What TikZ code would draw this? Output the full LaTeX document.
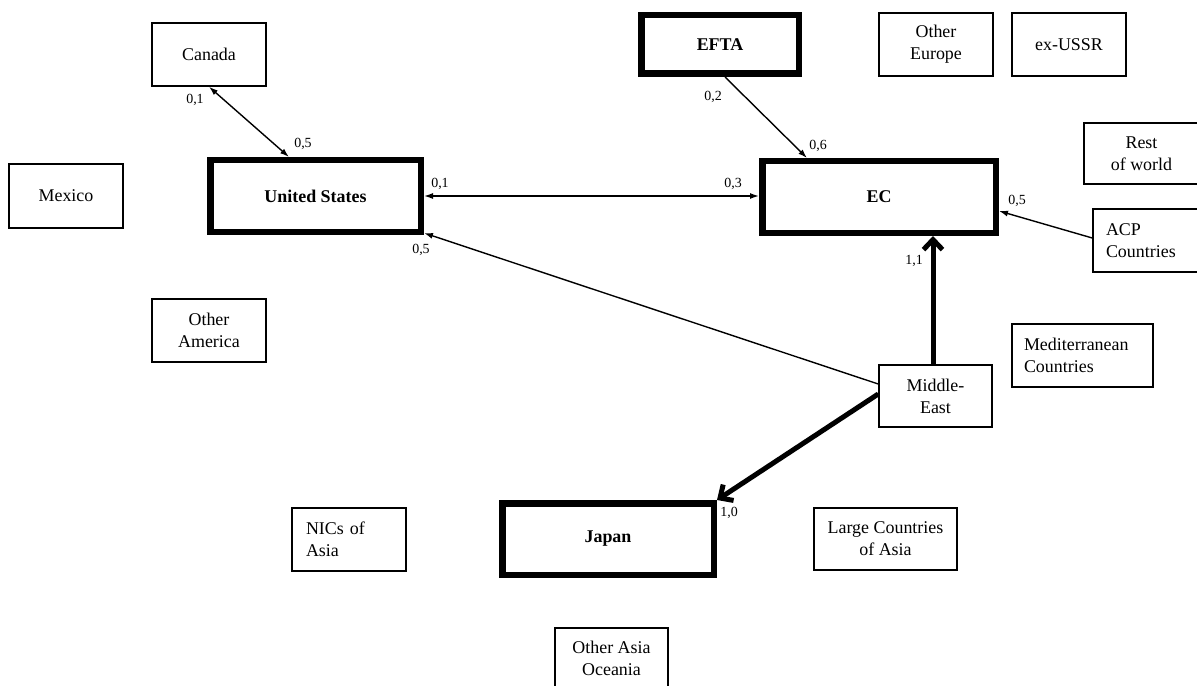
\documentclass[tikz,border=0pt]{standalone}
\usepackage{fontspec}
\setmainfont{Liberation Serif}
\usetikzlibrary{arrows.meta,calc}

\begin{document}
\begin{tikzpicture}[x=1bp,y=-1bp,
  box/.style={draw, line width=1.5bp, inner sep=0pt, align=center,
    minimum width=114bp, minimum height=63bp,
    font=\fontsize{18}{22}\selectfont},
  mainbox/.style={box, line width=6.5bp, font=\fontsize{18}{22}\selectfont\bfseries},
  flow/.style={line width=1.4bp, -{Latex[length=9bp,width=6bp]}},
  flowboth/.style={line width=1.4bp, {Latex[length=9bp,width=6bp]}-{Latex[length=9bp,width=6bp]}},
  bigflow/.style={line width=5bp, -{Straight Barb[length=10bp,width=19bp]}},
  val/.style={font=\fontsize{14}{14}\selectfont, inner sep=0pt}]

\path[use as bounding box, fill=white] (0,0) rectangle (1197,686);

% the four main trading blocs
\node[mainbox, minimum width=210.5bp, minimum height=71.5bp] (us) at (315.5,196) {United States};
\node[mainbox, minimum width=233.5bp, minimum height=71.5bp] (ec) at (879,197) {EC};
\node[mainbox, minimum width=157.5bp, minimum height=58.5bp] (efta) at (720,44.5) {EFTA};
\node[mainbox, minimum width=211.5bp, minimum height=71.5bp] (jap) at (608,539) {Japan};

% other regions
\node[box] (can) at (209,54.5) {Canada};
\node[box, minimum height=64bp] (mex) at (66,196) {Mexico};
\node[box] (oam) at (209,330.5) {Other\\America};
\node[box] (oeu) at (936,44.5) {Other\\Europe};
\node[box] (ussr) at (1069,44.5) {ex-USSR};
\node[box, minimum width=115bp, minimum height=61bp] (row) at (1141.5,153.5) {Rest\\of world};
\node[box, minimum width=106bp, align=left, text width=80bp, inner xsep=13bp] (acp) at (1146,240.5) {ACP\\Countries};
\node[box, minimum width=141bp, align=left, text width=117bp, inner xsep=12bp] (med) at (1082.5,355.5) {Mediterranean\\Countries};
\node[box, minimum width=113bp, minimum height=62bp] (me) at (935.5,396) {Middle-\\East};
\node[box, align=left, text width=86bp, inner xsep=14bp] (nic) at (349,539.5) {NICs of\\Asia};
\node[box, minimum width=143bp, minimum height=62bp] (lca) at (885.5,539) {Large Countries\\of Asia};
\node[box, minimum width=113bp, minimum height=60bp] (oao) at (611.5,658) {Other Asia\\Oceania};

% flows between regions
\draw[flowboth] (can.south) -- ($(us.north)+(-26.5,0)$);
\draw[flowboth] (us.east) -- (us.east -| ec.west);
\draw[flow] ($(efta.south)+(5,0)$) -- ($(ec.north)+(-72,0)$);
\draw[flow] ($(acp.west)+(0,-2.5)$) -- ($(ec.east)+(0,14)$);
\draw[flow] ($(me.west)+(0,-12)$) -- ($(us.south east)+(0,-2)$);
\coordinate (meup) at ($(me.north)+(-2.5,0)$);
\draw[bigflow] (meup) -- (meup |- ec.south);
\draw[bigflow] ($(me.west)+(0,-2)$) -- (jap.north east);

% flow values
\node[val] (v1) at (195,100) {0,1};
\node[val] (v2) at (303,144) {0,5};
\node[val] (v3) at (440,184) {0,1};
\node[val] (v4) at (733,184) {0,3};
\node[val] (v5) at (713,97) {0,2};
\node[val] (v6) at (818,146) {0,6};
\node[val] (v7) at (1017,201) {0,5};
\node[val] (v8) at (421,250) {0,5};
\node[val] (v9) at (914,261) {1,1};
\node[val] (v10) at (729,513) {1,0};
\end{tikzpicture}
\end{document}
